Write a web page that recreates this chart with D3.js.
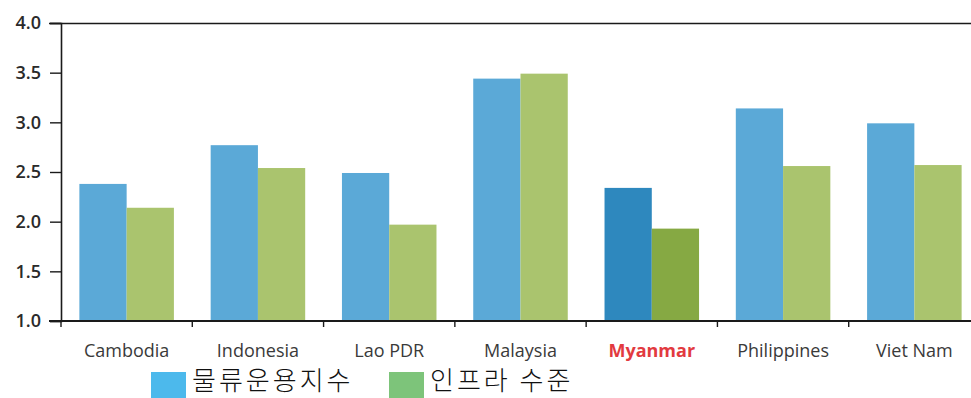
<!DOCTYPE html>
<html>
<head>
<meta charset="utf-8">
<script src="https://cdn.jsdelivr.net/npm/d3@7/dist/d3.min.js"></script>
<style>
  html, body { margin: 0; padding: 0; background: #fff; }
  svg { display: block; }
</style>
</head>
<body>
<svg id="chart" width="971" height="398"></svg>
<script>
// Logistics performance vs. infrastructure scores, ASEAN countries
const countries = ["Cambodia", "Indonesia", "Lao PDR", "Malaysia", "Myanmar", "Philippines", "Viet Nam"];
const lpiValues = [2.38, 2.77, 2.49, 3.44, 2.34, 3.14, 2.99];
const infraValues = [2.14, 2.54, 1.97, 3.49, 1.93, 2.56, 2.57];
const seriesNames = ["물류운용지수", "인프라 수준"];
const yTicks = [1.0, 1.5, 2.0, 2.5, 3.0, 3.5, 4.0];
const highlight = "Myanmar";

(function () {
  const svg = d3.select("#chart");
  const W = 971;
  const axisX = 61, plotTop = 23, plotBottom = 321;

  const y = d3.scaleLinear().domain([1, 4]).range([plotBottom, plotTop]);
  const x0 = d3.scaleBand().domain(countries).range([axisX, 980])
    .paddingInner(0.28).paddingOuter(0.14);
  const x1 = d3.scaleBand().domain([0, 1]).range([0, x0.bandwidth()]);

  const colors = {
    normal: ["#5ba9d7", "#aac46e"],
    highlight: ["#2e88be", "#86a943"]
  };

  // bars
  const groups = svg.append("g").selectAll("g")
    .data(countries)
    .join("g")
    .attr("transform", d => `translate(${x0(d)},0)`);

  groups.selectAll("rect")
    .data((c, i) => [lpiValues[i], infraValues[i]].map((v, k) => ({ c, v, k })))
    .join("rect")
    .attr("x", d => x1(d.k))
    .attr("width", x1.bandwidth())
    .attr("y", d => y(d.v))
    .attr("height", d => y(1) - y(d.v))
    .attr("fill", d => (d.c === highlight ? colors.highlight : colors.normal)[d.k]);

  // top border
  const axisColor = "#1a1a1a";
  svg.append("line").attr("x1", 49).attr("x2", W).attr("y1", plotTop + 0.5).attr("y2", plotTop + 0.5)
    .attr("stroke", axisColor).attr("stroke-width", 1.6);

  // y axis
  const yAxis = d3.axisLeft(y).tickValues(yTicks).tickFormat(d3.format(".1f"))
    .tickSize(11).tickPadding(9);
  const gy = svg.append("g").attr("transform", `translate(${axisX},0)`).call(yAxis);
  gy.select(".domain").attr("stroke", axisColor).attr("stroke-width", 1.6);
  gy.selectAll(".tick line").attr("stroke", axisColor).attr("stroke-width", 1.4);
  gy.selectAll(".tick text")
    .attr("font-family", "'Open Sans', sans-serif")
    .attr("font-size", 18)
    .attr("font-weight", 600)
    .attr("fill", "#2a2a2a");

  // x axis baseline with ticks at band boundaries
  svg.append("line").attr("x1", 49).attr("x2", W).attr("y1", plotBottom).attr("y2", plotBottom)
    .attr("stroke", axisColor).attr("stroke-width", 1.8);
  const step = x0.step();
  const boundaries = d3.range(countries.length + 1).map(i => axisX + i * step);
  svg.append("g").selectAll("line")
    .data(boundaries)
    .join("line")
    .attr("x1", d => d).attr("x2", d => d)
    .attr("y1", plotBottom).attr("y2", plotBottom + 6)
    .attr("stroke", axisColor).attr("stroke-width", 1.4);

  svg.append("g").selectAll("text")
    .data(countries)
    .join("text")
    .attr("x", d => x0(d) + x0.bandwidth() / 2)
    .attr("y", 357)
    .attr("text-anchor", "middle")
    .attr("font-family", "'Open Sans', sans-serif")
    .attr("font-size", 18)
    .attr("font-weight", d => d === highlight ? 700 : 500)
    .attr("fill", d => d === highlight ? "#e23a3f" : "#3a3a3a")
    .text(d => d);

  // legend
  const legendColors = ["#4cb9ec", "#7dc47a"];
  const legendX = [151, 389];
  const lg = svg.append("g");
  seriesNames.forEach((name, i) => {
    lg.append("rect")
      .attr("x", legendX[i]).attr("y", 372)
      .attr("width", 35).attr("height", 26)
      .attr("fill", legendColors[i]);
    lg.append("text")
      .attr("x", legendX[i] + 41).attr("y", 390)
      .attr("font-family", "'Noto Sans CJK KR', sans-serif")
      .attr("font-size", 26)
      .attr("font-weight", 300)
      .attr("letter-spacing", 3)
      .attr("fill", "#111")
      .text(name);
  });
})();
</script>
</body>
</html>
